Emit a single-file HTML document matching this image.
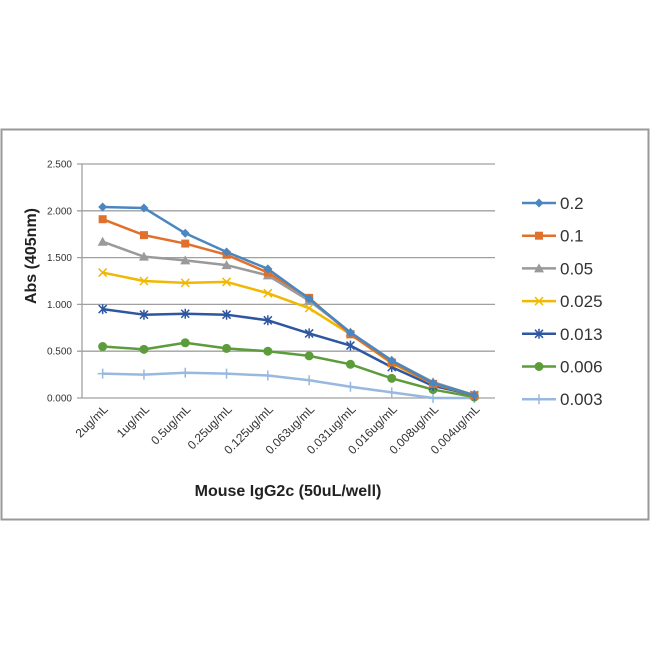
<!DOCTYPE html>
<html><head><meta charset="utf-8"><style>
body{margin:0;background:#fff;width:650px;height:650px;overflow:hidden}
svg text{font-family:"Liberation Sans",sans-serif}
</style></head><body>
<svg id="chart" width="650" height="650" viewBox="0 0 650 650">
<rect x="1.5" y="129.5" width="647" height="390" fill="#fff" stroke="#999" stroke-width="2"/>
<g id="grid"></g><g id="axes"></g><g id="series"></g><g id="legend"></g>
<text transform="translate(36,256) rotate(-90)" text-anchor="middle" font-size="16" font-weight="bold" fill="#222">Abs (405nm)</text>
<text x="288" y="496" text-anchor="middle" font-size="16" font-weight="bold" fill="#222">Mouse IgG2c (50uL/well)</text>
</svg>
<script>
const categories=["2ug/mL","1ug/mL","0.5ug/mL","0.25ug/mL","0.125ug/mL","0.063ug/mL","0.031ug/mL","0.016ug/mL","0.008ug/mL","0.004ug/mL"];
const yTicks=[0,0.5,1,1.5,2,2.5];
const yTickLabels=["0.000","0.500","1.000","1.500","2.000","2.500"];
const seriesNames=["0.2","0.1","0.05","0.025","0.013","0.006","0.003"];
const s02=[2.04,2.03,1.76,1.56,1.38,1.06,0.70,0.40,0.16,0.03];
const s01=[1.91,1.74,1.65,1.53,1.34,1.07,0.68,0.38,0.15,0.03];
const s005=[1.67,1.51,1.47,1.42,1.31,1.04,0.70,0.40,0.17,0.03];
const s0025=[1.34,1.25,1.23,1.24,1.12,0.96,0.68,0.37,0.15,0.03];
const s0013=[0.95,0.89,0.90,0.89,0.83,0.69,0.56,0.33,0.13,0.03];
const s0006=[0.55,0.52,0.59,0.53,0.50,0.45,0.36,0.21,0.09,0.01];
const s0003=[0.26,0.25,0.27,0.26,0.24,0.19,0.12,0.06,0.00,0.00];
const seriesValues=[s02,s01,s005,s0025,s0013,s0006,s0003];
const colors=["#4a86c0","#e0702b","#9a9a9a","#f0b800","#2f56a0","#5d9c3a","#98b8e0"];
const markers=["diamond","square","triangle","x","star","circle","plus"];
const NS="http://www.w3.org/2000/svg";
const X0=82,X1=495,Y0=398,Y1=164,YMAX=2.5;
const step=(X1-X0)/categories.length;
const xs=i=>X0+step*(i+0.5);
const ys=v=>Y0-(v/YMAX)*(Y0-Y1);
function mk(tag,attrs,parent){const e=document.createElementNS(NS,tag);for(const k in attrs)e.setAttribute(k,attrs[k]);parent.appendChild(e);return e;}
const grid=document.getElementById('grid'),axes=document.getElementById('axes'),ser=document.getElementById('series'),leg=document.getElementById('legend');
yTicks.forEach((t,i)=>{
 const l=mk('line',{x1:X0-5,x2:X1,y1:ys(t),y2:ys(t),stroke:'#a0a0a0','stroke-width':1.3},grid);
 
 
 const tx=mk('text',{x:X0-10,y:ys(t)+3.5,'text-anchor':'end','font-size':10,fill:'#333'},axes);
 tx.textContent=yTickLabels[i];
 
 
});
const ya=mk('line',{x1:X0,x2:X0,y1:Y1,y2:Y0,stroke:'#a0a0a0','stroke-width':1.3},axes);


categories.forEach((c,i)=>{
 const tx=mk('text',{transform:`translate(${xs(i)+6},${Y0+12}) rotate(-45)`,'text-anchor':'end','font-size':12,fill:'#333'},axes);
 tx.textContent=c;
 
 
});
function marker(type,x,y,c,g){
 let e;
 if(type==='diamond')e=mk('path',{d:`M${x},${y-4.5}L${x+4.5},${y}L${x},${y+4.5}L${x-4.5},${y}Z`,fill:c},g);
 else if(type==='square')e=mk('rect',{x:x-4,y:y-4,width:8,height:8,fill:c},g);
 else if(type==='triangle')e=mk('path',{d:`M${x},${y-5}L${x+5},${y+4}L${x-5},${y+4}Z`,fill:c},g);
 else if(type==='circle')e=mk('circle',{cx:x,cy:y,r:4.5,fill:c},g);
 else if(type==='x')e=mk('path',{d:`M${x-4},${y-4}L${x+4},${y+4}M${x-4},${y+4}L${x+4},${y-4}`,stroke:c,'stroke-width':1.5},g);
 else if(type==='star')e=mk('path',{d:`M${x-4},${y-4}L${x+4},${y+4}M${x-4},${y+4}L${x+4},${y-4}M${x},${y-5}L${x},${y+5}`,stroke:c,'stroke-width':1.5},g);
 else e=mk('path',{d:`M${x-5},${y}L${x+5},${y}M${x},${y-5}L${x},${y+5}`,stroke:c,'stroke-width':1.5},g);
 
 
}
for(let s=seriesValues.length-1;s>=0;s--){
 const vals=seriesValues[s];
 const g=mk('g',{},ser);
 
 
 const p=mk('polyline',{points:vals.map((v,i)=>xs(i)+','+ys(v)).join(' '),fill:'none',stroke:colors[s],'stroke-width':2.5,'stroke-linejoin':'round'},g);
 
 
 vals.forEach((v,i)=>marker(markers[s],xs(i),ys(v),colors[s],g));
}
seriesNames.forEach((n,s)=>{
 const y=203+s*32.7;
 const g=mk('g',{},leg);
 
 
 mk('line',{x1:522,x2:556,y1:y,y2:y,stroke:colors[s],'stroke-width':2.5},g);
 marker(markers[s],539,y,colors[s],g);
 const t=mk('text',{x:560,y:y+6,'font-size':17,fill:'#333'},g);
 t.textContent=n;
});
</script>
</body></html>
